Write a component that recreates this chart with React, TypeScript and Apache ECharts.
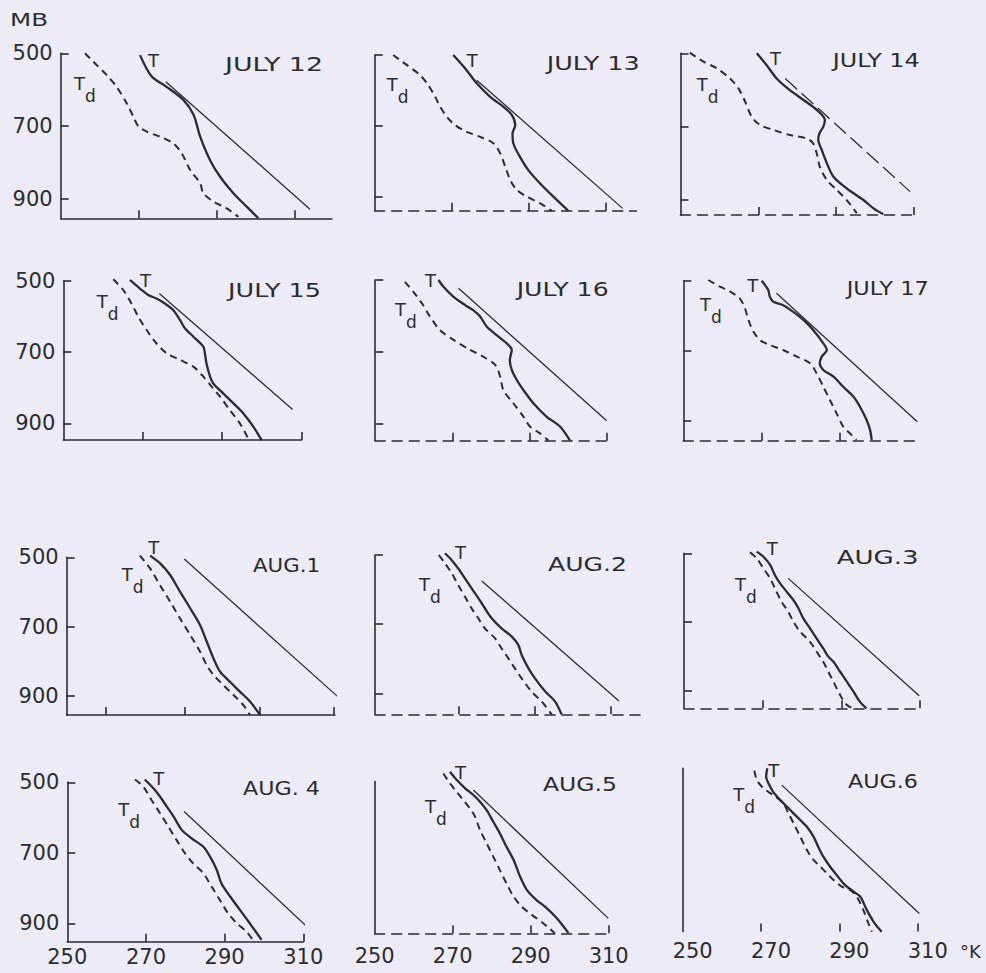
import React, { useEffect, useRef } from "react";
import * as echarts from "echarts";

// ---------- data: [temperature K, pressure mb] ----------
const T_JUL12 = [[270.3,505],[273.3,564],[277.1,592],[281.4,628],[284.0,669],[285.7,729],[288.2,793],[290.8,839],[294.2,884],[297.6,921],[300.6,953]];
const TD_JUL12 = [[256.2,500],[259.2,532],[261.8,560],[264.3,592],[266.9,637],[268.6,674],[269.9,701],[272.0,715],[275.4,729],[278.8,747],[281.0,775],[283.1,820],[285.7,857],[286.5,884],[289.1,907],[292.5,926],[295.5,949]];
const AD_JUL12 = [[276.9,578],[313.8,928]];

const T_JUL13 = [[270.4,500],[273.5,538],[276.5,580],[280.0,618],[283.4,646],[285.6,669],[286.5,698],[285.8,721],[286.0,749],[287.7,787],[289.9,825],[292.9,862],[296.4,900],[300.3,940]];
const TD_JUL13 = [[254.8,500],[258.3,528],[261.8,557],[263.9,585],[265.7,618],[267.0,646],[268.7,674],[270.9,698],[273.9,717],[277.4,731],[280.8,749],[282.6,778],[283.9,815],[285.2,853],[286.9,881],[289.5,900],[293.0,919],[296.0,940]];
const AD_JUL13 = [[276.5,571],[314.4,933]];

const T_JUL14 = [[269.6,500],[272.1,532],[274.7,569],[278.1,601],[281.6,628],[285.0,655],[287.1,683],[286.7,701],[285.7,719],[285.4,737],[286.3,765],[287.6,801],[289.3,838],[292.7,870],[297.0,902],[299.6,925],[302.1,941]];
const TD_JUL14 = [[252.4,498],[255.9,523],[259.3,541],[262.7,569],[264.9,596],[266.6,632],[268.3,674],[270.4,696],[273.9,710],[278.1,724],[282.4,733],[284.1,747],[285.0,774],[285.8,811],[287.6,847],[290.1,874],[292.7,902],[295.3,938]];
const AD_JUL14 = [[276.9,569],[309.0,879]];

const T_JUL15 = [[266.8,498],[269.3,522],[271.4,540],[273.5,550],[275.6,564],[277.7,582],[279.4,610],[280.7,634],[282.8,657],[285.3,685],[285.7,704],[286.1,732],[287.0,769],[287.8,788],[290.3,816],[292.9,844],[295.4,872],[297.9,909],[300.0,947]];
const TD_JUL15 = [[262.6,496],[265.1,526],[267.2,564],[268.9,601],[271.0,638],[273.5,676],[276.1,704],[279.4,722],[282.8,741],[285.3,769],[287.4,797],[289.5,825],[292.0,863],[294.5,900],[296.6,942]];
const AD_JUL15 = [[274.2,536],[307.8,861]];

const T_JUL16 = [[266.4,500],[267.7,519],[270.3,547],[273.3,570],[275.4,584],[277.2,602],[278.9,630],[281.5,654],[284.1,677],[285.4,695],[284.9,723],[285.4,751],[286.7,779],[288.4,807],[291.0,844],[294.4,881],[297.9,909],[300.5,948]];
const TD_JUL16 = [[257.7,505],[259.9,533],[262.1,565],[264.2,602],[266.8,640],[270.3,667],[274.6,695],[278.0,714],[281.1,737],[282.4,770],[283.2,807],[285.8,844],[288.4,881],[290.1,909],[292.7,928],[294.9,948]];
const AD_JUL16 = [[271.6,523],[310.0,893]];

const T_JUL17 = [[270.1,500],[270.9,512],[271.8,527],[272.2,546],[273.1,560],[275.6,570],[278.2,589],[280.8,612],[283.3,641],[285.9,679],[286.8,698],[285.5,717],[285.0,736],[285.9,755],[288.5,774],[291.0,803],[293.6,831],[295.3,860],[297.0,898],[297.9,927],[298.3,955]];
const TD_JUL17 = [[256.4,498],[259.4,517],[262.0,531],[264.5,551],[265.8,579],[266.7,612],[268.0,646],[269.7,670],[272.2,684],[275.6,698],[279.1,717],[282.5,736],[284.2,765],[285.9,803],[287.6,841],[289.3,879],[291.0,917],[292.7,936],[294.4,955]];
const AD_JUL17 = [[273.9,536],[310.0,903]];

const T_AUG1 = [[271.2,495],[273.7,517],[276.3,551],[278.8,599],[281.4,647],[283.9,695],[285.6,743],[287.3,791],[289.0,830],[291.5,859],[294.1,888],[296.6,916],[299.2,955]];
const TD_AUG1 = [[268.6,495],[271.2,532],[273.7,580],[276.3,628],[278.8,676],[281.4,724],[283.9,772],[285.6,811],[287.3,839],[289.8,868],[292.4,897],[294.9,926],[296.6,955]];
const AD_AUG1 = [[279.9,505],[319.9,912]];

const T_AUG2 = [[268.4,495],[270.2,515],[271.9,539],[273.7,568],[275.4,596],[277.2,625],[278.9,654],[280.7,683],[283.3,712],[286.0,736],[287.7,760],[288.6,789],[290.4,828],[292.1,857],[294.8,895],[297.4,924],[299.1,961]];
const TD_AUG2 = [[266.8,500],[268.4,524],[270.2,553],[271.9,587],[273.7,621],[275.4,654],[277.2,683],[278.9,712],[281.6,741],[283.3,770],[285.1,799],[286.8,828],[288.6,857],[291.2,895],[293.9,924],[296.5,961]];
const AD_AUG2 = [[278.1,575],[314.2,922]];

const T_AUG3 = [[268.5,495],[270.2,510],[271.9,534],[273.1,563],[274.4,587],[276.1,612],[277.8,636],[279.1,660],[280.3,689],[282.0,718],[283.7,748],[285.4,777],[286.7,801],[288.0,816],[289.7,845],[291.4,874],[293.1,903],[294.7,932],[296.4,952]];
const TD_AUG3 = [[266.8,497],[268.5,515],[270.2,544],[271.9,573],[273.1,602],[274.8,641],[276.5,670],[277.8,699],[279.5,728],[282.0,757],[283.7,786],[285.4,816],[286.7,845],[288.0,874],[289.7,913],[291.4,942],[293.1,952]];
const AD_AUG3 = [[276.5,573],[309.8,915]];

const T_AUG4 = [[269.7,492],[271.9,517],[273.6,541],[275.3,569],[277.0,597],[279.1,635],[281.6,659],[284.6,683],[286.3,711],[288.0,749],[289.2,787],[291.4,824],[293.9,862],[296.4,900],[299.4,947]];
const TD_AUG4 = [[267.2,492],[269.3,512],[271.4,550],[273.6,588],[275.7,626],[277.8,664],[279.9,701],[282.0,730],[284.6,758],[286.7,796],[288.8,834],[290.9,872],[293.1,900],[295.6,924],[297.3,949]];
const AD_AUG4 = [[279.7,583],[310.8,908]];

const T_AUG5 = [[269.3,470],[271.0,493],[273.2,517],[275.3,536],[277.0,555],[278.7,579],[280.4,612],[282.1,645],[283.8,683],[285.6,720],[287.3,768],[289.0,805],[291.5,834],[294.1,857],[296.7,886],[299.7,928]];
const TD_AUG5 = [[267.6,475],[269.3,503],[271.0,527],[272.7,550],[274.4,574],[275.7,597],[277.0,635],[278.7,673],[280.4,711],[282.1,749],[283.8,787],[285.6,824],[287.7,853],[290.3,876],[293.2,900],[296.2,928]];
const AD_AUG5 = [[275.3,522],[309.9,886]];

const T_AUG6 = [[271.6,460],[271.3,484],[271.9,503],[273.1,527],[274.9,550],[276.6,569],[278.3,588],[280.0,607],[281.7,626],[283.4,654],[284.6,683],[285.9,711],[287.6,739],[289.3,763],[291.4,791],[293.6,810],[295.3,824],[297.0,862],[298.7,895],[300.8,924]];
const TD_AUG6 = [[268.3,467],[268.9,493],[270.6,517],[273.1,536],[275.7,560],[277.0,588],[278.3,616],[280.0,654],[281.7,692],[283.4,720],[285.1,739],[286.8,758],[288.5,777],[290.6,796],[292.7,805],[294.4,824],[296.1,862],[297.4,900],[298.3,924]];
const AD_AUG6 = [[275.3,508],[310.4,872]];

const TITLES = ["JULY 12", "JULY 13", "JULY 14", "JULY 15", "JULY 16", "JULY 17", "AUG.1", "AUG.2", "AUG.3", "AUG. 4", "AUG.5", "AUG.6"];
const X_TICKS_STD = [270, 290, 310];
const X_TICKS_AUG1 = [260, 280, 299, 318];
const X_TICKS_AUG2 = [272, 292, 312];
const X_LABELS = [250, 270, 290, 310];
const Y_TICKS = [500, 700, 900];
const Y_LABELS = [500, 700, 900];
const Y_UNIT = "MB";
const X_UNIT = "°K";

const SERIES_T = [T_JUL12, T_JUL13, T_JUL14, T_JUL15, T_JUL16, T_JUL17, T_AUG1, T_AUG2, T_AUG3, T_AUG4, T_AUG5, T_AUG6];
const SERIES_TD = [TD_JUL12, TD_JUL13, TD_JUL14, TD_JUL15, TD_JUL16, TD_JUL17, TD_AUG1, TD_AUG2, TD_AUG3, TD_AUG4, TD_AUG5, TD_AUG6];
const SERIES_AD = [AD_JUL12, AD_JUL13, AD_JUL14, AD_JUL15, AD_JUL16, AD_JUL17, AD_AUG1, AD_AUG2, AD_AUG3, AD_AUG4, AD_AUG5, AD_AUG6];
const X_TICK_SETS = [X_TICKS_STD, X_TICKS_STD, X_TICKS_STD, X_TICKS_STD, X_TICKS_STD, X_TICKS_STD, X_TICKS_AUG1, X_TICKS_AUG2, X_TICKS_STD, X_TICKS_STD, X_TICKS_STD, X_TICKS_STD];

// ---------- layout (pixels) ----------
type Lay = {
  x0: number; ppk: number; y0: number; ppm: number; xMax: number; yMin: number; yMax: number;
  yLab: boolean; yTick: boolean; xLab: boolean; xLine: "solid" | "dashed" | "none"; lm: number; lShift?: number; adDash?: boolean;
  title: [number, number, number]; tLab: [number, number]; tdLab: [number, number];
};
const LAYOUT: Lay[] = [
  { x0: 60.7, ppk: 3.907, y0: 53.3, ppm: 0.3642, xMax: 319.4, yMin: 500, yMax: 953, yLab: true, yTick: true, xLab: false, xLine: "solid", lm: 4, title: [225, 57, 98], tLab: [148, 53.3], tdLab: [74, 75] },
  { x0: 374.7, ppk: 3.85, y0: 55, ppm: 0.3542, xMax: 318, yMin: 500, yMax: 939.5, yLab: false, yTick: true, xLab: false, xLine: "dashed", lm: 4, title: [546.7, 56.7, 93], tLab: [466.7, 53.3], tdLab: [386.7, 76.7] },
  { x0: 680.5, ppk: 3.892, y0: 53.3, ppm: 0.365, xMax: 310.3, yMin: 500, yMax: 943, yLab: false, yTick: true, xLab: false, xLine: "dashed", lm: 4, adDash: true, title: [832.7, 53, 87], tLab: [770, 51.7], tdLab: [696.7, 76.7] },
  { x0: 63.3, ppk: 3.967, y0: 280.7, ppm: 0.3567, xMax: 310.1, yMin: 500, yMax: 946.7, yLab: true, yTick: true, xLab: false, xLine: "solid", lm: 4, title: [228, 283, 93], tLab: [140, 273.3], tdLab: [96.7, 293.3] },
  { x0: 375.2, ppk: 3.858, y0: 280, ppm: 0.3583, xMax: 310, yMin: 500, yMax: 948.4, yLab: false, yTick: true, xLab: false, xLine: "dashed", lm: 4, title: [516.7, 282, 92], tLab: [425, 273.3], tdLab: [395, 301.7] },
  { x0: 683.3, ppk: 3.9, y0: 280.7, ppm: 0.35, xMax: 309.8, yMin: 500, yMax: 957, yLab: false, yTick: true, xLab: false, xLine: "dashed", lm: 4, title: [846.7, 282, 82], tLab: [747.3, 278.3], tdLab: [700, 296.7] },
  { x0: 66.7, ppk: 3.933, y0: 557.3, ppm: 0.3467, xMax: 318.2, yMin: 500, yMax: 954.8, yLab: true, yTick: true, xLab: false, xLine: "solid", lm: 4, title: [253, 558, 67], tLab: [148.3, 540], tdLab: [121.7, 566.7] },
  { x0: 375, ppk: 3.8, y0: 555, ppm: 0.3458, xMax: 321.5, yMin: 500, yMax: 960.7, yLab: false, yTick: true, xLab: false, xLine: "dashed", lm: 4, title: [548, 557, 79], tLab: [455, 545], tdLab: [419, 576.7] },
  { x0: 684, ppk: 3.933, y0: 553.3, ppm: 0.3433, xMax: 310, yMin: 500, yMax: 951.5, yLab: false, yTick: true, xLab: false, xLine: "dashed", lm: 4, title: [836.7, 550, 82], tLab: [766.7, 541.7], tdLab: [735, 576.7] },
  { x0: 67.3, ppk: 3.933, y0: 782.3, ppm: 0.3525, xMax: 310, yMin: 500, yMax: 952, yLab: true, yTick: true, xLab: true, xLine: "solid", lm: 5, title: [243, 782, 77], tLab: [153.3, 771.7], tdLab: [118.3, 801.7] },
  { x0: 374.7, ppk: 3.9, y0: 782.3, ppm: 0.3525, xMax: 310, yMin: 498, yMax: 928.4, yLab: false, yTick: false, xLab: true, xLine: "dashed", lm: 12, title: [543, 777, 74], tLab: [455, 765], tdLab: [425, 798.3] },
  { x0: 682.7, ppk: 3.917, y0: 782.3, ppm: 0.3525, xMax: 310, yMin: 460.3, yMax: 923.6, yLab: false, yTick: false, xLab: true, xLine: "none", lm: 9, lShift: 10, title: [848, 775, 70], tLab: [768.3, 763.3], tdLab: [733.3, 786.7] },
];

const INK = "#2c2c30";
const BG = "#ECEBF6";
const FONT = "DejaVu Sans";

function measure(text: string, size: number): number {
  const ctx = document.createElement("canvas").getContext("2d");
  if (!ctx) return text.length * size * 0.6;
  ctx.font = `${size}px "${FONT}"`;
  return ctx.measureText(text).width;
}

function buildOption() {
  const grid = LAYOUT.map((l) => ({
    left: l.x0,
    top: l.y0 + (l.yMin - 500) * l.ppm,
    width: (l.xMax - 250) * l.ppk,
    height: (l.yMax - l.yMin) * l.ppm,
    containLabel: false,
    outerBoundsMode: "none",
  }));

  const axisLabelStyle = { fontSize: 21, fontFamily: FONT, color: INK };

  const xAxis = LAYOUT.map((l, i) => ({
    type: "value",
    gridIndex: i,
    min: 250,
    max: l.xMax,
    splitLine: { show: false },
    axisLine: {
      show: l.xLine !== "none",
      onZero: false,
      lineStyle: { color: INK, width: 1.6, type: l.xLine === "dashed" ? [10, 7] : "solid" },
    },
    axisTick: { show: true, inside: true, length: 8, customValues: X_TICK_SETS[i], lineStyle: { color: INK, width: 1.6 } },
    axisLabel: {
      show: l.xLab, customValues: X_LABELS, margin: l.lm, showMinLabel: true, showMaxLabel: true,
      padding: [0, 0, 0, (l.lShift || 0) * 2],
      ...axisLabelStyle,
    },
  }));

  const yAxis = LAYOUT.map((l, i) => ({
    type: "value",
    gridIndex: i,
    inverse: true,
    min: l.yMin,
    max: l.yMax,
    splitLine: { show: false },
    axisLine: { show: true, onZero: false, lineStyle: { color: INK, width: 1.6 } },
    axisTick: { show: l.yTick, inside: true, length: 8, customValues: Y_TICKS, lineStyle: { color: INK, width: 1.6 } },
    axisLabel: { show: l.yLab, customValues: Y_LABELS, margin: 8, showMinLabel: true, ...axisLabelStyle },
  }));

  const series: any[] = [];
  LAYOUT.forEach((l, i) => {
    series.push({
      type: "line", name: "T", xAxisIndex: i, yAxisIndex: i, data: SERIES_T[i],
      symbol: "none", showSymbol: false, smooth: 0.3, clip: false, silent: true,
      lineStyle: { color: INK, width: 2.3 },
    });
    series.push({
      type: "line", name: "Td", xAxisIndex: i, yAxisIndex: i, data: SERIES_TD[i],
      symbol: "none", showSymbol: false, smooth: 0.3, clip: false, silent: true,
      lineStyle: { color: INK, width: 2, type: [7, 5] },
    });
    series.push({
      type: "line", name: "adiabat", xAxisIndex: i, yAxisIndex: i, data: SERIES_AD[i],
      symbol: "none", showSymbol: false, clip: false, silent: true,
      lineStyle: { color: INK, width: 1.3, type: l.adDash ? [16, 6] : "solid" },
    });
  });

  const graphic: any[] = [];
  LAYOUT.forEach((l, i) => {
    const [tx, ty, tw] = l.title;
    const natural = measure(TITLES[i], 19);
    graphic.push({
      type: "text", x: tx, y: ty - 3, scaleX: tw / natural, silent: true,
      style: { text: TITLES[i], fontSize: 19, fontFamily: FONT, fill: INK, verticalAlign: "top", lineHeight: 20 },
    });
    graphic.push({
      type: "text", x: l.tLab[0], y: l.tLab[1] - 3, silent: true,
      style: { text: "T", fontSize: 18, fontFamily: FONT, fill: INK, verticalAlign: "top", lineHeight: 20 },
    });
    graphic.push({
      type: "text", x: l.tdLab[0], y: l.tdLab[1] - 1, silent: true,
      style: {
        text: "{a|T}{b|d}", fill: INK, verticalAlign: "top", fontFamily: FONT,
        rich: {
          a: { fontSize: 18, fontFamily: FONT, fill: INK, verticalAlign: "top", lineHeight: 20 },
          b: { fontSize: 17, fontFamily: FONT, fill: INK, verticalAlign: "bottom", padding: [13, 0, 0, 0] },
        },
      },
    });
  });
  graphic.push({
    type: "text", x: 10, y: 10, scaleX: 38 / measure(Y_UNIT, 18), silent: true,
    style: { text: Y_UNIT, fontSize: 18, fontFamily: FONT, fill: INK, verticalAlign: "top", lineHeight: 20 },
  });
  graphic.push({
    type: "text", x: 960, y: 941, silent: true,
    style: { text: X_UNIT, fontSize: 18, fontFamily: FONT, fill: INK, verticalAlign: "top", lineHeight: 20 },
  });

  return {
    animation: false,
    backgroundColor: BG,
    grid, xAxis, yAxis, series, graphic,
  };
}

export default function App() {
  const ref = useRef<HTMLDivElement>(null);
  useEffect(() => {
    if (!ref.current) return;
    const chart = echarts.init(ref.current, undefined, { renderer: "svg" });
    chart.setOption(buildOption() as any);
    return () => chart.dispose();
  }, []);
  return (
    <div
      ref={ref}
      style={{ position: "absolute", left: 0, top: 0, width: 986, height: 973, background: BG }}
    />
  );
}
